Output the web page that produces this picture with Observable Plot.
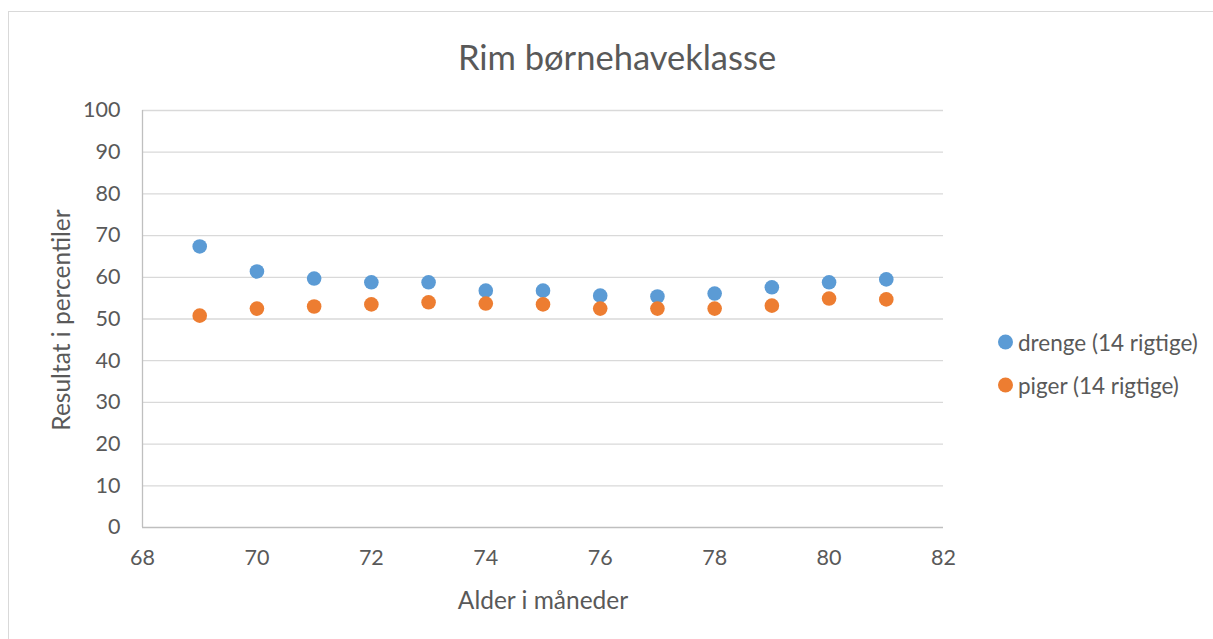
<!DOCTYPE html>
<html>
<head>
<meta charset="utf-8">
<script src="https://cdn.jsdelivr.net/npm/d3@7"></script>
<script src="https://cdn.jsdelivr.net/npm/@observablehq/plot@0.6"></script>
<style>
  html, body { margin: 0; padding: 0; background: #fff; }
  #wrap { position: relative; width: 1213px; height: 639px; overflow: hidden; font-family: Lato, "Open Sans", sans-serif; color: #595959; }
  #border { position: absolute; left: 8px; top: 11px; width: 1220px; height: 640px; border: 1px solid #d9d9d9; box-sizing: border-box; }
  #title { position: absolute; left: 617px; top: 56px; transform: translate(-50%, -50%); font-size: 34.5px; white-space: nowrap; }
  #chart { position: absolute; left: 0; top: 0; }
  #ylabel { position: absolute; left: 60px; top: 320px; transform: translate(-50%, -50%) rotate(-90deg); font-size: 24.5px; white-space: nowrap; }
  #xlabel { position: absolute; left: 543px; top: 599px; transform: translate(-50%, -50%); font-size: 24.5px; white-space: nowrap; }
  .leg { position: absolute; left: 998px; transform: translateY(-50%); font-size: 22.5px; white-space: nowrap; display: flex; align-items: center; }
  .leg span.dot { display: inline-block; width: 15px; height: 15px; border-radius: 50%; margin-right: 5px; }
</style>
</head>
<body>
<div id="wrap">
  <div id="border"></div>
  <div id="chart"></div>
  <div id="title">Rim børnehaveklasse</div>
  <div id="ylabel">Resultat i percentiler</div>
  <div id="xlabel">Alder i måneder</div>
  <div class="leg" style="top:342px"><span class="dot" style="background:#5B9BD5"></span>drenge (14 rigtige)</div>
  <div class="leg" style="top:385px"><span class="dot" style="background:#ED7D31"></span>piger (14 rigtige)</div>
</div>
<script>
const ages = [69, 70, 71, 72, 73, 74, 75, 76, 77, 78, 79, 80, 81];
const drenge = [67.4, 61.4, 59.7, 58.8, 58.8, 56.8, 56.8, 55.6, 55.4, 56.1, 57.6, 58.8, 59.5];
const piger = [50.8, 52.5, 53.0, 53.5, 54.0, 53.7, 53.5, 52.5, 52.5, 52.5, 53.2, 54.9, 54.7];
const seriesNames = ["drenge (14 rigtige)", "piger (14 rigtige)"];
const xTicks = [68, 70, 72, 74, 76, 78, 80, 82];
const yTicks = [0, 10, 20, 30, 40, 50, 60, 70, 80, 90, 100];

const data = [
  ...ages.map((a, i) => ({age: a, value: drenge[i], series: seriesNames[0]})),
  ...ages.map((a, i) => ({age: a, value: piger[i], series: seriesNames[1]}))
];

const chart = Plot.plot({
  width: 1213,
  height: 639,
  marginLeft: 142,
  marginRight: 270,
  marginTop: 110,
  marginBottom: 112,
  style: { fontFamily: "Lato, 'Open Sans', sans-serif", fontSize: "21.5px", color: "#595959", background: "transparent" },
  x: { domain: [68, 82], ticks: xTicks, tickSize: 0, tickPadding: 22, label: null },
  y: { domain: [0, 100], ticks: yTicks, tickSize: 0, tickPadding: 22, label: null },
  color: { domain: seriesNames, range: ["#5B9BD5", "#ED7D31"] },
  marks: [
    Plot.gridY(yTicks.filter(t => t > 0), { stroke: "#d9d9d9", strokeOpacity: 1, strokeWidth: 1.3 }),
    Plot.ruleY([0], { stroke: "#bfbfbf", strokeWidth: 1.3 }),
    Plot.ruleX([68], { stroke: "#bfbfbf", strokeWidth: 1.3 }),
    Plot.dot(data, { x: "age", y: "value", fill: "series", r: 7.3 }),
    Plot.axisX({ ticks: xTicks, tickSize: 0, tickPadding: 22, label: null }),
    Plot.axisY({ ticks: yTicks, tickSize: 0, tickPadding: 22, label: null })
  ]
});
document.getElementById("chart").appendChild(chart);
</script>
</body>
</html>
